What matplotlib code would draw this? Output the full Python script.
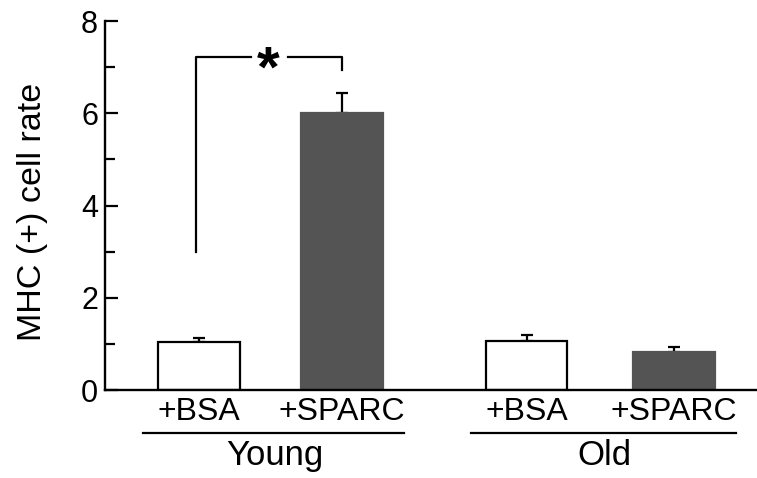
import matplotlib
matplotlib.use('Agg')
import numpy as np
import matplotlib.pyplot as plt
from matplotlib.lines import Line2D

plt.rcParams['font.family'] = ['Liberation Sans', 'DejaVu Sans']

# data
treatments = ['+BSA', '+SPARC', '+BSA', '+SPARC']
groups = ['Young', 'Old']
values = [1.05, 6.0, 1.06, 0.82]
errors = [0.08, 0.45, 0.13, 0.11]
colors = ['white', '#545454', 'white', '#545454']
positions = [0, 1, 2.29, 3.32]

fig = plt.figure(figsize=(7.57, 4.78), dpi=100)
ax = fig.add_axes([0.1387, 0.184, 0.8613, 0.772])

ax.bar(positions, values, width=0.57, color=colors, edgecolor=['black', '#545454', 'black', '#545454'],
       linewidth=1.6, zorder=2)
ax.errorbar(positions, values, yerr=[np.zeros(4), errors], fmt='none', ecolor='black',
            elinewidth=1.6, capsize=4.5, capthick=1.6, zorder=1)

ax.set_xlim(-0.657, 3.9)
ax.set_ylim(0, 8)
ax.spines['top'].set_visible(False)
ax.spines['right'].set_visible(False)
ax.spines['left'].set_linewidth(1.7)
ax.spines['bottom'].set_linewidth(1.7)
ax.set_yticks([0, 2, 4, 6, 8])
ax.set_yticks([1, 3, 5, 7], minor=True)
ax.tick_params(axis='y', which='major', direction='in', length=9, width=1.6, labelsize=22, pad=5)
ax.tick_params(axis='y', which='minor', direction='in', length=7, width=1.6)
ax.set_xticks([])
ax.set_ylabel('MHC (+) cell rate', fontsize=24.5)
ax.yaxis.set_label_coords(-0.088, 0.482)

# significance bracket
bx0, bx1, by = positions[0] - 0.02, positions[1], 7.23
ax.plot([bx0, bx0, 0.36], [3.0, by, by], color='black', lw=1.6)
ax.plot([0.62, bx1, bx1], [by, by, 6.93], color='black', lw=1.6)
ax.text(0.485, by - 0.33, '*', ha='center', va='center', fontsize=42, fontweight='bold')

# x labels below axis
trans = ax.get_xaxis_transform()
for p, t in zip(positions, treatments):
    ax.text(p, -0.06, t, transform=trans, ha='center', va='center', fontsize=23)
for (a, b), g in zip([(positions[0], positions[1]), (positions[2], positions[3])], groups):
    ax.add_line(Line2D([a - 0.39, b + 0.43], [-0.1165, -0.1165], transform=trans,
                       color='black', lw=1.6, clip_on=False))
    ax.text((a + b) / 2 + 0.03, -0.178, g, transform=trans, ha='center', va='center', fontsize=25)

fig.savefig('out.png', dpi=100)
